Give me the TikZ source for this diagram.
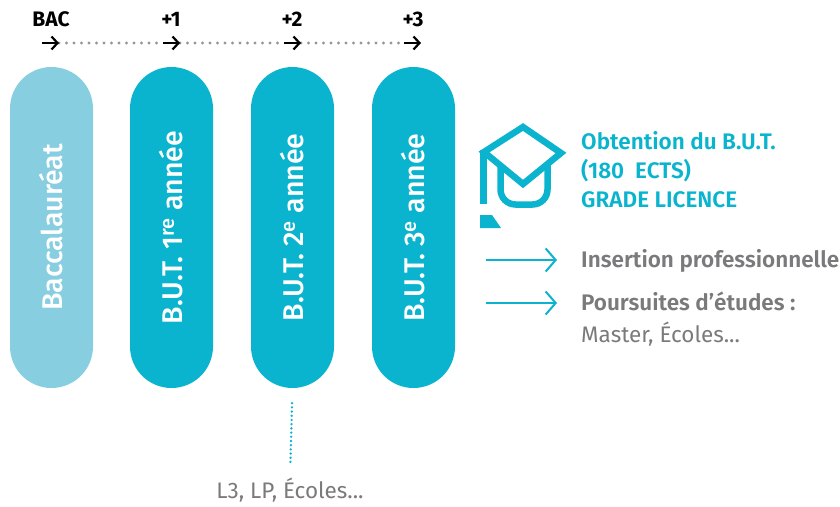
\documentclass[tikz,border=0pt]{standalone}
\usepackage{fontspec}
\setmainfont{Fira Sans}[BoldFont={Fira Sans SemiBold}]
\newfontfamily\pillfont{Fira Sans Medium}
\newfontfamily\heavyfont{Fira Sans Bold}
\usepackage{xcolor}
\usetikzlibrary{arrows.meta}
\definecolor{butcyan}{RGB}{11,180,206}
\definecolor{baccyan}{RGB}{135,206,224}
\definecolor{txtgrey}{RGB}{122,122,124}
\definecolor{dotgrey}{RGB}{150,150,150}
\tikzset{
  pill/.style={rotate=90, minimum width=321pt, minimum height=83pt, inner sep=0pt,
    rounded corners=41.5pt, fill=butcyan, text=white,
    font=\fontsize{28.5}{28.5}\pillfont},
  yearlabel/.style={inner sep=0pt, anchor=base, font=\fontsize{21}{21}\heavyfont},
  tlarrow/.style={line width=2.2pt, -{Straight Barb[length=6pt,width=13pt]}},
  tldots/.style={dotgrey, line width=3.3pt, line cap=round, dash pattern=on 0pt off 7.5pt},
  cyarrow/.style={butcyan, line width=2pt, -{Straight Barb[length=10pt,width=23pt]}},
  outcome/.style={inner sep=0pt, anchor=base west, font=\fontsize{22.5}{22.5}\selectfont}
}
\begin{document}
\begin{tikzpicture}[x=1pt,y=-1pt]
\useasboundingbox (0,0) rectangle (840,506);
% timeline
\node[yearlabel] (bac-l) at (51,27) {BAC};
\node[yearlabel] (y1-l) at (171,27) {+1};
\node[yearlabel] (y2-l) at (292,27) {+2};
\node[yearlabel] (y3-l) at (413,27) {+3};
\coordinate (t0a) at (42,43);  \coordinate (t0b) at (59,43);
\coordinate (t1a) at (163,43); \coordinate (t1b) at (180,43);
\coordinate (t2a) at (284,43); \coordinate (t2b) at (301,43);
\coordinate (t3a) at (404,43); \coordinate (t3b) at (421,43);
\draw[tldots] (t0b) -- (t1a);
\draw[tldots] (t1b) -- (t2a);
\draw[tldots] (t2b) -- (t3a);
\draw[tlarrow] (t0a) -- (t0b);
\draw[tlarrow] (t1a) -- (t1b);
\draw[tlarrow] (t2a) -- (t2b);
\draw[tlarrow] (t3a) -- (t3b);
% years
\node[pill, fill=baccyan] (bac) at (51.5,227.5) {Baccalauréat};
\node[pill] (y1) at (171.5,227.5) {B.U.T. 1\textsuperscript{re} année};
\node[pill] (y2) at (292.5,227.5) {B.U.T. 2\textsuperscript{e} année};
\node[pill] (y3) at (413.5,227.5) {B.U.T. 3\textsuperscript{e} année};
% exit after year 2
\node[outcome, anchor=base, text=txtgrey] (l3) at (290,498) {L3, LP, Écoles...};
\draw[butcyan, line width=2.6pt, line cap=round, dash pattern=on 0pt off 4.2pt,
  shorten <=15pt, shorten >=14pt] (y2.west) -- (l3.north);
% mortarboard
\begin{scope}[butcyan, line width=6.5pt]
\draw[line join=miter] (523,127) -- (561,153) -- (523,184) -- (484,152) -- cycle;
\draw[rounded corners=15pt] (500.5,166) -- (500.5,204.5) -- (547.5,204.5) -- (547.5,166);
\draw (483.5,150) -- (483.5,204);
\fill (480,215) -- (492,215) -- (501,228) -- (480,228) -- cycle;
\end{scope}
% outcomes
\node[outcome, text=butcyan, font=\fontsize{22.5}{22.5}\selectfont\bfseries] (obt1) at (581,149) {Obtention du B.U.T.};
\node[outcome, text=butcyan, font=\fontsize{22.5}{22.5}\selectfont\bfseries] (obt2) at (581,178) {(180~ ECTS)};
\node[outcome, text=butcyan, font=\fontsize{22.5}{22.5}\selectfont\bfseries] (obt3) at (581,207) {GRADE LICENCE};
\node[outcome, text=txtgrey, font=\fontsize{22.5}{22.5}\selectfont\bfseries] (ins) at (581,267) {Insertion professionnelle};
\node[outcome, text=txtgrey, font=\fontsize{22.5}{22.5}\selectfont\bfseries] (pours) at (581,310) {Poursuites d’études :};
\node[outcome, text=txtgrey] (master) at (581,342) {Master, Écoles...};
\coordinate (ins-a) at (486,260);   \coordinate (ins-b) at (557,260);
\coordinate (pours-a) at (486,303); \coordinate (pours-b) at (557,303);
\draw[cyarrow] (ins-a) -- (ins-b);
\draw[cyarrow] (pours-a) -- (pours-b);
\end{tikzpicture}
\end{document}
